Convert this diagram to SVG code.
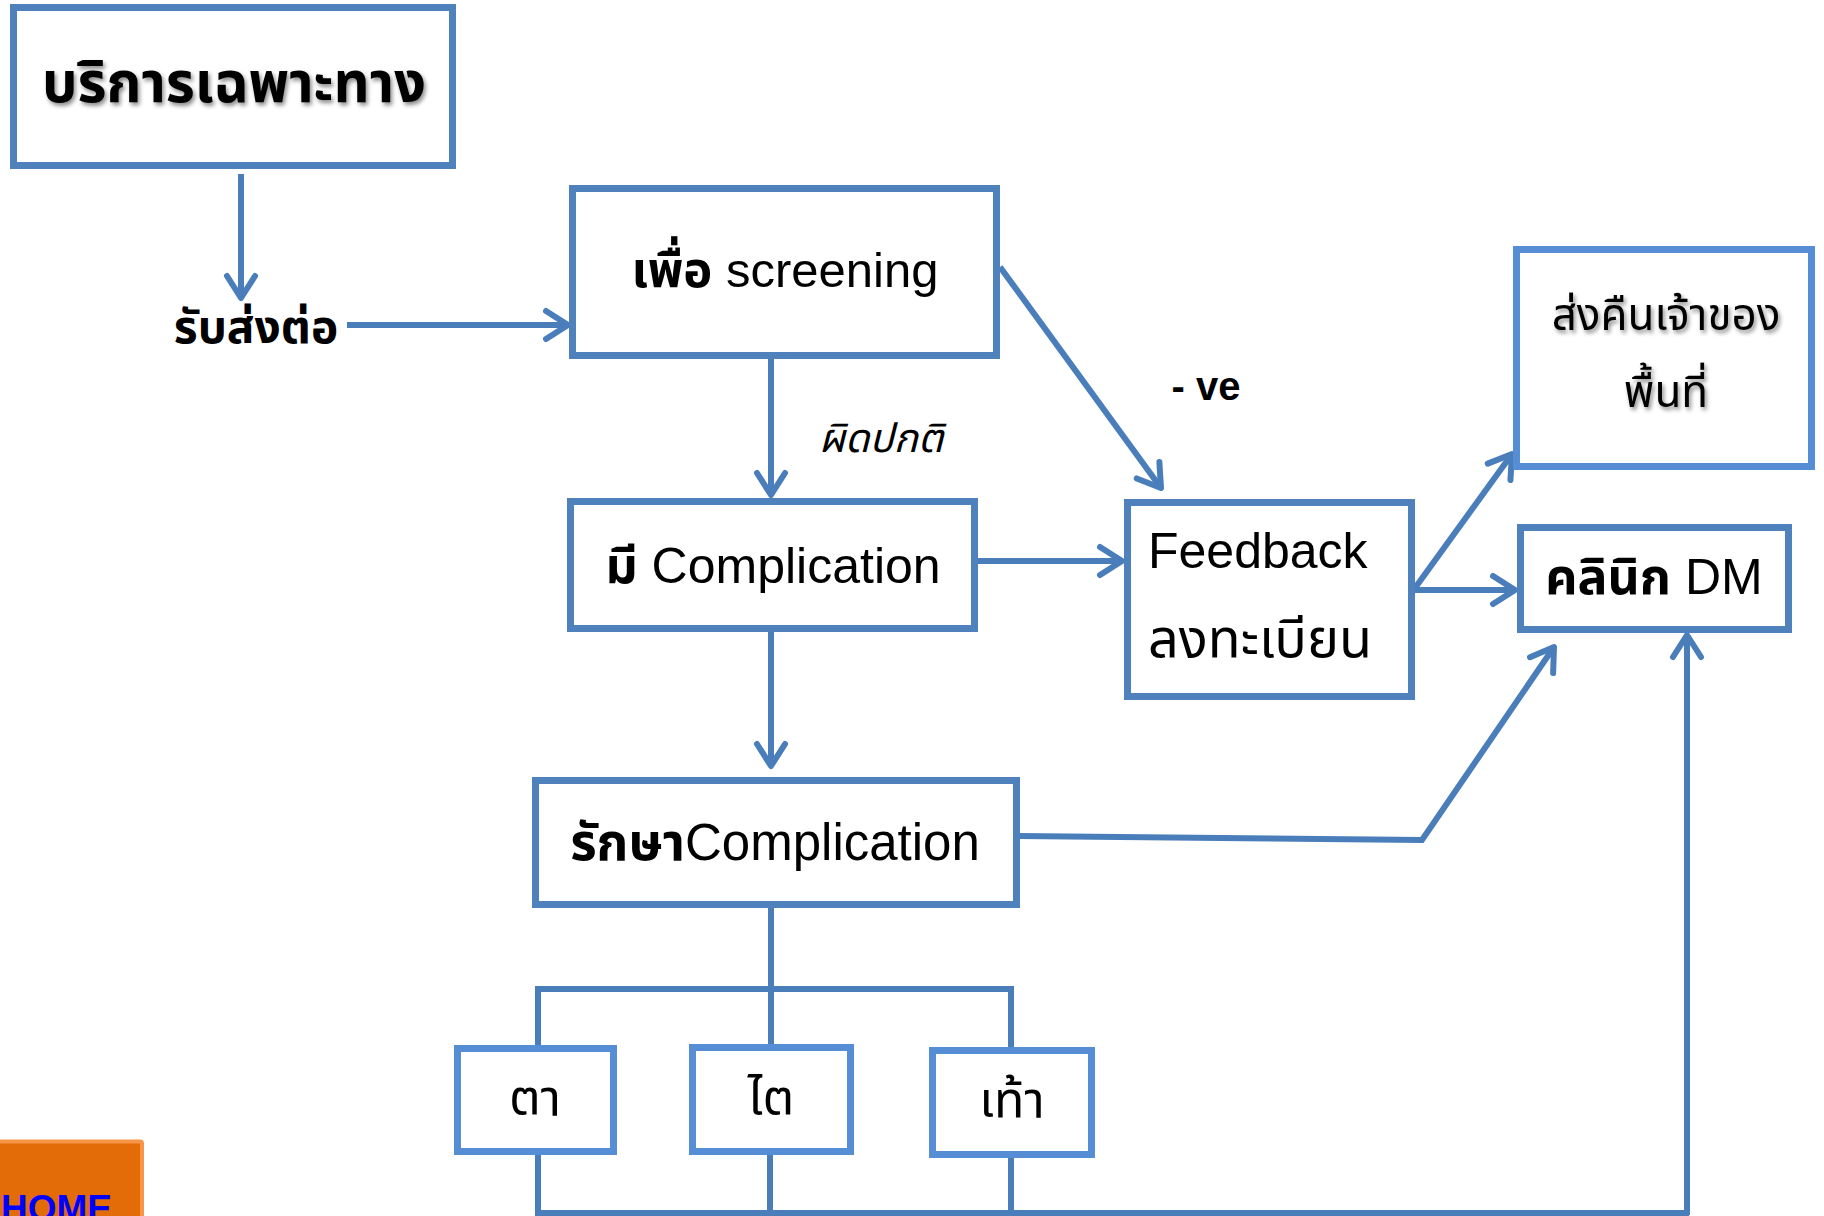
<svg xmlns="http://www.w3.org/2000/svg" width="1824" height="1216" viewBox="0 0 1824 1216">
<defs>
<style>
.box{fill:#fff;stroke:#4F81BD;stroke-width:7}
.boxl{fill:#fff;stroke:#558ED5;stroke-width:7}
.c{fill:none;stroke:#4A7EBB;stroke-width:6}
.t{font-family:"Liberation Sans","Noto Sans Thai","Noto Sans",sans-serif;fill:#000}
.b{font-weight:bold}
.m{text-anchor:middle}
</style>
<marker id="ah" markerUnits="userSpaceOnUse" viewBox="-30 -20 36 40" refX="0" refY="0" markerWidth="36" markerHeight="40" orient="auto">
<path d="M-22,-14 L0,0 L-22,14" fill="none" stroke="#4A7EBB" stroke-width="6" stroke-linecap="round" stroke-linejoin="round"/>
</marker>
<filter id="sh" x="-10%" y="-30%" width="120%" height="160%">
<feDropShadow dx="2" dy="3" stdDeviation="2" flood-color="#000" flood-opacity="0.45"/>
</filter>
</defs>
<rect width="1824" height="1216" fill="#fff"/>
<g id="connectors">
<line class="c" x1="241" y1="174" x2="241" y2="298" marker-end="url(#ah)"/>
<line class="c" x1="347" y1="325" x2="568" y2="325" marker-end="url(#ah)"/>
<line class="c" x1="771" y1="359" x2="771" y2="495" marker-end="url(#ah)"/>
<line class="c" x1="1000" y1="267" x2="1161" y2="488" marker-end="url(#ah)"/>
<line class="c" x1="978" y1="561" x2="1122" y2="561" marker-end="url(#ah)"/>
<line class="c" x1="1415" y1="588" x2="1512" y2="454" marker-end="url(#ah)"/>
<line class="c" x1="1415" y1="590" x2="1515" y2="590" marker-end="url(#ah)"/>
<line class="c" x1="771" y1="630" x2="771" y2="766" marker-end="url(#ah)"/>
<polyline class="c" points="1018,836 1422,840 1554,647" marker-end="url(#ah)"/>
<line class="c" x1="771" y1="906" x2="771" y2="1046"/>
<line class="c" x1="535" y1="989" x2="1014" y2="989" stroke-width="7"/>
<line class="c" x1="538" y1="989" x2="538" y2="1046"/>
<line class="c" x1="1011" y1="989" x2="1011" y2="1049"/>
<line class="c" x1="538" y1="1152" x2="538" y2="1213" stroke-width="5"/>
<line class="c" x1="770" y1="1152" x2="770" y2="1213" stroke-width="5"/>
<line class="c" x1="1011" y1="1156" x2="1011" y2="1213" stroke-width="5"/>
<line class="c" x1="535" y1="1213" x2="1689" y2="1213" stroke-width="5"/>
<line class="c" x1="1687" y1="1215" x2="1687" y2="635" stroke-width="5" marker-end="url(#ah)"/>
</g>
<g id="n_service">
<rect class="box" x="13.5" y="7.5" width="439" height="158"/>
<text class="t b m" x="234" y="102" font-size="56" filter="url(#sh)">บริการเฉพาะทาง</text>
</g>
<g id="n_refer">
<text class="t b m" x="256" y="343" font-size="46">รับส่งต่อ</text>
</g>
<g id="n_screening">
<rect class="box" x="572.5" y="188.5" width="424" height="167"/>
<text class="t m" x="785" y="287" font-size="49"><tspan class="b">เพื่อ</tspan> screening</text>
</g>
<g id="l_abnormal">
<text class="t m" x="881" y="452" font-size="40" font-style="italic">ผิดปกติ</text>
</g>
<g id="l_neg">
<text class="t b m" x="1206" y="400" font-size="40">- ve</text>
</g>
<g id="n_complication">
<rect class="box" x="570.5" y="501.5" width="404" height="127"/>
<text class="t m" x="773" y="583" font-size="50"><tspan class="b">มี</tspan> Complication</text>
</g>
<g id="n_feedback">
<rect class="box" x="1127.5" y="502.5" width="284" height="194"/>
<text class="t" x="1148" y="568" font-size="50">Feedback</text>
<text class="t" x="1148" y="657" font-size="54">ลงทะเบียน</text>
</g>
<g id="n_return">
<rect class="boxl" x="1516.5" y="249.5" width="295" height="217"/>
<text class="t m" x="1666" y="330" font-size="44" filter="url(#sh)">ส่งคืนเจ้าของ</text>
<text class="t m" x="1666" y="407" font-size="44" filter="url(#sh)">พื้นที่</text>
</g>
<g id="n_clinic">
<rect class="box" x="1520.5" y="527.5" width="268" height="102"/>
<text class="t m" x="1654" y="594" font-size="50"><tspan class="b">คลินิก</tspan> DM</text>
</g>
<g id="n_treat">
<rect class="box" x="535.5" y="780.5" width="481" height="124"/>
<text class="t m" x="775" y="860" font-size="51"><tspan class="b">รักษา</tspan>Complication</text>
</g>
<g id="n_eye">
<rect class="boxl" x="457.5" y="1048.5" width="156" height="103"/>
<text class="t m" x="535" y="1115" font-size="50">ตา</text>
</g>
<g id="n_kidney">
<rect class="boxl" x="692.5" y="1047.5" width="158" height="104"/>
<text class="t m" x="771" y="1115" font-size="50">ไต</text>
</g>
<g id="n_foot">
<rect class="boxl" x="932.5" y="1050.5" width="159" height="104"/>
<text class="t m" x="1012" y="1117" font-size="50">เท้า</text>
</g>
<g id="n_home">
<rect x="-4" y="1141.5" width="146" height="80" fill="#E36C09" stroke="#F79646" stroke-width="4" rx="2"/>
<text x="1" y="1221" font-family="'Liberation Sans',sans-serif" font-weight="bold" font-size="37" fill="#0000FF">HOME</text>
</g>
</svg>
